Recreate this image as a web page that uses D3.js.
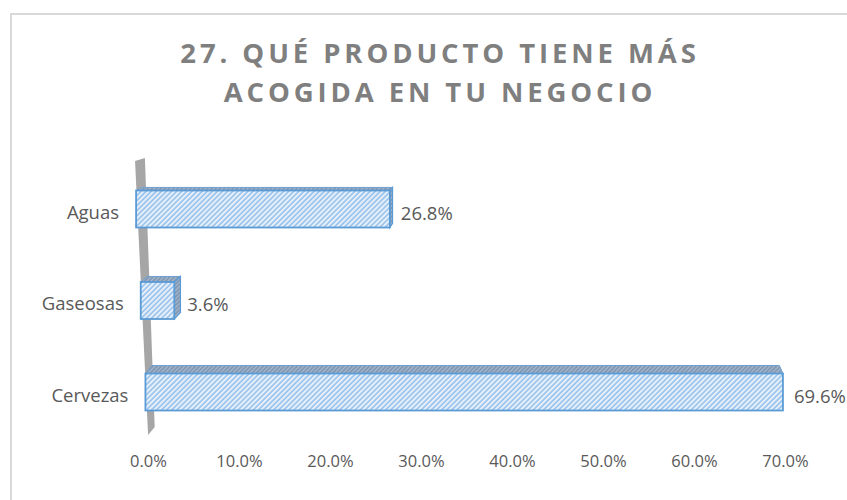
<!DOCTYPE html>
<html lang="es">
  <head>
    <meta charset="UTF-8" />
    <title>27. Qué producto tiene más acogida en tu negocio</title>
    <script src="https://d3js.org/d3.v7.min.js"></script>
    <style>
      body { margin: 0; background: #fff; }
      text { font-family: "Open Sans", sans-serif; fill: #595959; }
      .title { font-weight: 700; fill: #7f7f7f; font-size: 27.5px; letter-spacing: 3.9px; }
      .cat { font-size: 18.5px; }
      .val { font-size: 18.5px; }
      .axis text { font-size: 16.5px; fill: #595959; }
    </style>
  </head>
  <body>
    <svg id="chart" width="847" height="500"></svg>
    <script>
      const categories = ["Aguas", "Gaseosas", "Cervezas"];
      const values = [0.268, 0.036, 0.696];
      const tickValues = [0, 0.1, 0.2, 0.3, 0.4, 0.5, 0.6, 0.7];
      const titleLines = ["27. QUÉ PRODUCTO TIENE MÁS", "ACOGIDA EN TU NEGOCIO"];

      const svg = d3.select("#chart");
      const defs = svg.append("defs");

      // hatch patterns, front face and darker top/side faces
      const front = defs.append("pattern")
        .attr("id", "hatch")
        .attr("patternUnits", "userSpaceOnUse")
        .attr("width", 3.6).attr("height", 3.6)
        .attr("patternTransform", "rotate(45)");
      front.append("rect").attr("width", 3.6).attr("height", 3.6).attr("fill", "#e6f0fb");
      front.append("line").attr("x1", 1).attr("y1", 0).attr("x2", 1).attr("y2", 3.6)
        .attr("stroke", "#86b6e6").attr("stroke-width", 1.3);

      const dark = defs.append("pattern")
        .attr("id", "hatchDark")
        .attr("patternUnits", "userSpaceOnUse")
        .attr("width", 3).attr("height", 3)
        .attr("patternTransform", "rotate(45)");
      dark.append("rect").attr("width", 3).attr("height", 3).attr("fill", "#aab9cb");
      dark.append("line").attr("x1", 1).attr("y1", 0).attr("x2", 1).attr("y2", 3)
        .attr("stroke", "#6e8aab").attr("stroke-width", 1.3);

      // chart frame
      svg.append("rect")
        .attr("x", 11).attr("y", 14)
        .attr("width", 900).attr("height", 600)
        .attr("fill", "none")
        .attr("stroke", "#d9d9d9")
        .attr("stroke-width", 2);

      // title
      svg.append("g").selectAll("text")
        .data(titleLines)
        .join("text")
        .attr("class", "title")
        .attr("x", 440)
        .attr("y", (d, i) => 63 + i * 39)
        .attr("text-anchor", "middle")
        .text(d => d);

      // perspective helpers
      const y = d3.scalePoint().domain(categories).range([209, 392]);
      const barH = 37;
      const zeroX = d3.scaleLinear().domain([189, 375]).range([136, 145.5]);
      const span70 = d3.scaleLinear().domain([189, 375]).range([663, 641]);
      const rowScale = top => d3.scaleLinear()
        .domain([0, 0.7])
        .range([zeroX(top), zeroX(top) + span70(top)]);
      const vp = { x: 560, y: 77 };
      const kx = 0.016, ky = 0.027;
      const back = (px, py) => [px + (vp.x - px) * kx, py + (vp.y - py) * ky];

      // slanted wall
      const wallX = d3.scaleLinear().domain([160, 433]).range([135, 148]);
      svg.append("path")
        .attr("d", d3.line()([
          [wallX(161), 161], [wallX(158) + 10, 158],
          [wallX(427) + 7, 427], [wallX(435), 435]
        ]) + "Z")
        .attr("fill", "#a6a6a6");

      const bars = svg.append("g").selectAll("g")
        .data(categories.map((c, i) => ({ cat: c, value: values[i] })))
        .join("g")
        .each(function (d) {
          const g = d3.select(this);
          const y0 = y(d.cat) - barH / 2, y1 = y0 + barH;
          const xs = rowScale(y0);
          const x0 = xs(0), x1 = xs(d.value);
          d.x1 = x1; d.cy = y(d.cat);
          const b00 = back(x0, y0), b10 = back(x1, y0), b11 = back(x1, y1);
          // top face
          g.append("path")
            .attr("d", d3.line()([[x0, y0], [x1, y0], b10, b00]) + "Z")
            .attr("fill", "url(#hatchDark)")
            .attr("stroke", "#6d9fd2").attr("stroke-width", 1);
          // right side face
          if (x1 < vp.x) {
            g.append("path")
              .attr("d", d3.line()([[x1, y0], [x1, y1], b11, b10]) + "Z")
              .attr("fill", "url(#hatchDark)")
              .attr("stroke", "#5b9bd5").attr("stroke-width", 1.2);
          }
          // front face
          g.append("rect")
            .attr("x", x0).attr("y", y0)
            .attr("width", x1 - x0).attr("height", barH)
            .attr("fill", "url(#hatch)")
            .attr("stroke", "#5b9bd5").attr("stroke-width", 1.8);
        });

      // category labels
      svg.append("g").selectAll("text")
        .data(categories)
        .join("text")
        .attr("class", "cat")
        .attr("x", d => zeroX(y(d) - barH / 2) - 17)
        .attr("y", d => y(d) + 2)
        .attr("text-anchor", "end")
        .attr("dominant-baseline", "central")
        .text(d => d);

      // value labels
      const fmt = d3.format(".1%");
      svg.append("g").selectAll("text")
        .data(bars.data())
        .join("text")
        .attr("class", "val")
        .attr("x", d => d.x1 + (d.x1 < 300 ? 13 : 11))
        .attr("y", d => d.cy + 3)
        .attr("dominant-baseline", "central")
        .text(d => fmt(d.value));

      // bottom axis
      const x = d3.scaleLinear().domain([0, 0.7]).range([148, 785]);
      const axis = svg.append("g")
        .attr("class", "axis")
        .attr("transform", "translate(0,452)")
        .call(d3.axisBottom(x).tickValues(tickValues).tickFormat(d3.format(".1%")).tickSize(0));
      axis.select(".domain").remove();
      axis.selectAll("text").attr("dy", "0.71em").attr("font-family", "Open Sans");
    </script>
  </body>
</html>
